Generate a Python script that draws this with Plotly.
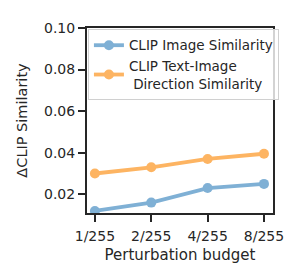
import plotly.graph_objects as go

budgets = ["1/255", "2/255", "4/255", "8/255"]
img_sim = [0.012, 0.016, 0.023, 0.025]
txt_dir_sim = [0.030, 0.033, 0.037, 0.0395]
yticks = [0.02, 0.04, 0.06, 0.08, 0.10]

blue = "#7fb0d5"
orange = "#fdb462"

fig = go.Figure()
fig.add_trace(go.Scatter(x=list(range(len(budgets))), y=img_sim, mode="lines+markers",
                         name="CLIP Image Similarity",
                         line=dict(color=blue, width=3.8), marker=dict(size=10, color=blue)))
fig.add_trace(go.Scatter(x=list(range(len(budgets))), y=txt_dir_sim, mode="lines+markers",
                         name="CLIP Text-Image<br>\u00a0Direction Similarity",
                         line=dict(color=orange, width=3.8), marker=dict(size=10, color=orange)))

font = "DejaVu Sans"
# page body adds an 8px offset; compensate in size/margins
fig.update_layout(
    width=292, height=272,
    margin=dict(l=79, r=27, t=16, b=67),
    paper_bgcolor="white", plot_bgcolor="white",
    font=dict(family=font, color="#262626"),
    showlegend=True,
    legend=dict(x=0.005, y=0.995, xanchor="left", yanchor="top",
                bgcolor="rgba(255,255,255,0.8)", bordercolor="#d0d0d0", borderwidth=1,
                font=dict(size=13.5, family=font), tracegroupgap=0, itemwidth=30),
    xaxis=dict(tickmode="array", tickvals=list(range(len(budgets))), ticktext=budgets,
               range=[-0.14, 3.16], showgrid=False, zeroline=False,
               showline=True, linecolor="#262626", linewidth=2, mirror=True,
               ticks="outside", ticklen=7, tickwidth=1.5, tickcolor="#262626",
               ticklabelstandoff=2,
               tickfont=dict(size=14), title=dict(text="Perturbation budget", font=dict(size=15), standoff=7)),
    yaxis=dict(range=[0.011, 0.10], tickvals=yticks, ticktext=[f"{v:.2f}" for v in yticks],
               showgrid=False, zeroline=False,
               showline=True, linecolor="#262626", linewidth=2, mirror=True,
               ticks="outside", ticklen=7, tickwidth=1.5, tickcolor="#262626",
               tickfont=dict(size=14), title=dict(text="ΔCLIP Similarity", font=dict(size=14.5), standoff=13)),
)

fig.write_html("out.html")
